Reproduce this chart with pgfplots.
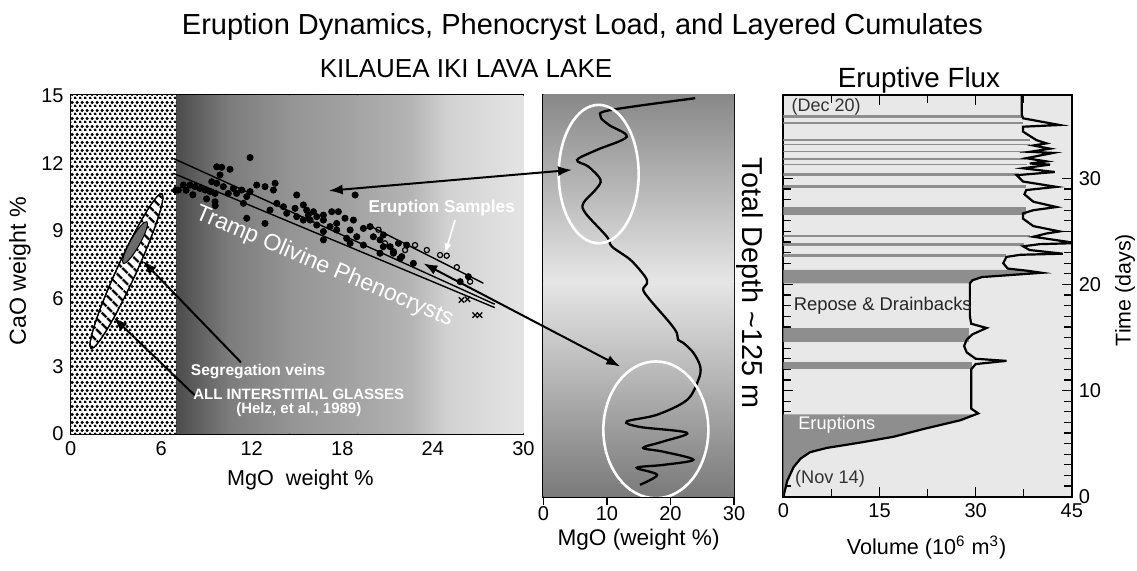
\documentclass[border=0pt]{standalone}
\usepackage{fontspec}
\setmainfont{Liberation Sans}
\usepackage{pgfplots}
\pgfplotsset{compat=1.18}
\usetikzlibrary{patterns,patterns.meta,arrows.meta}
\pgfdeclarepatternformonly{hexdots}{\pgfqpoint{0pt}{0pt}}{\pgfqpoint{2.3pt}{3.8pt}}{\pgfqpoint{2.3pt}{3.8pt}}{%
  \pgfpathcircle{\pgfqpoint{0.575pt}{0.475pt}}{0.92pt}%
  \pgfpathcircle{\pgfqpoint{1.725pt}{2.375pt}}{0.92pt}%
  \pgfusepath{fill}}
\definecolor{bandgray}{HTML}{8E8E8E}
\definecolor{lightbg}{HTML}{E8E8E8}
\definecolor{gA}{HTML}{4C4C4C}
\definecolor{gB}{HTML}{7C7C7C}
\definecolor{gC}{HTML}{949494}
\definecolor{gD}{HTML}{A4A4A4}
\definecolor{gE}{HTML}{B4B4B4}
\definecolor{gF}{HTML}{D2D2D2}
\definecolor{gG}{HTML}{E4E4E4}
\definecolor{pTop}{HTML}{888888}
\definecolor{pMid}{HTML}{E6E6E6}
\definecolor{pBot}{HTML}{7A7A7A}
\newcommand\fs[1]{\fontsize{#1}{#1}\selectfont}
\pgfplotsset{
  every axis/.append style={/pgf/number format/assume math mode=true,
    scale only axis, anchor=south west,
    axis line style={line width=1pt},
    tick label style={font=\fs{10}},
    every tick/.style={black, line width=0.6pt}},
}
\begin{document}
\begin{tikzpicture}
\path[use as bounding box] (0pt,0pt) rectangle (568.5pt,285.5pt);

% ================= Panel 1 =================
\begin{axis}[name=p1, at={(35.3pt,68.5pt)}, width=226.4pt, height=169.25pt,
  xmin=0, xmax=30, ymin=0, ymax=15,
  xtick={0,6,...,30}, ytick={0,3,...,15}, minor x tick num=5, minor y tick num=2,
  tick align=inside, major tick length=4.5pt, minor tick length=2.5pt]
% background gradient
\addplot[draw=none, left color=gA, right color=gB] coordinates {(7,0) (10.5,0) (10.5,15) (7,15)} -- cycle;
\addplot[draw=none, left color=gB, right color=gC] coordinates {(10.5,0) (14.5,0) (14.5,15) (10.5,15)} -- cycle;
\addplot[draw=none, left color=gC, right color=gD] coordinates {(14.5,0) (19,0) (19,15) (14.5,15)} -- cycle;
\addplot[draw=none, left color=gD, right color=gE] coordinates {(19,0) (22.5,0) (22.5,15) (19,15)} -- cycle;
\addplot[draw=none, left color=gE, right color=gF] coordinates {(22.5,0) (25,0) (25,15) (22.5,15)} -- cycle;
\addplot[draw=none, left color=gF, right color=gG] coordinates {(25,0) (30,0) (30,15) (25,15)} -- cycle;
% stippled glass field
\addplot[draw=none, fill=white, postaction={pattern=hexdots}] coordinates {(0,0) (7,0) (7,15) (0,15)} -- cycle;
% olivine control lines
\addplot[black, line width=0.7pt] coordinates {(6.81,12.21) (28.1,5.75)};
\addplot[black, line width=0.7pt] coordinates {(6.81,11.55) (28.1,5.6)};
\addplot[black, line width=0.7pt] coordinates {(19.7,9.26) (27.35,6.68)};
% interstitial glasses and segregation veins
\draw[black, line width=0.6pt, fill=white, rotate around={65.4:(axis cs:3.70,7.22)}] (axis cs:3.70,7.22) ellipse [x radius=42.5pt, y radius=4.8pt];
\path[pattern={Lines[angle=-45,distance=4pt,line width=1.3pt]}, rotate around={65.4:(axis cs:3.70,7.22)}] (axis cs:3.70,7.22) ellipse [x radius=42.5pt, y radius=4.8pt];
\draw[black, line width=0.6pt, rotate around={65.4:(axis cs:3.70,7.22)}] (axis cs:3.70,7.22) ellipse [x radius=42.5pt, y radius=4.8pt];
\draw[black, line width=0.5pt, fill=gray!85!black, rotate around={60.6:(axis cs:4.27,8.48)}] (axis cs:4.27,8.48) ellipse [x radius=12pt, y radius=2.4pt];
% samples
\addplot[only marks, mark=*, mark size=1.55pt, mark options={fill=black, draw=black}] coordinates {
(11.89,12.25) (9.68,11.84) (10.01,11.82) (10.56,11.73) (9.90,11.48) (9.35,11.18) (9.68,11.11) (10.12,10.96) (10.78,10.88) (11.34,10.81) (11.89,10.74) (12.33,11.03) (12.88,10.96) (13.55,11.11) (13.44,10.81) (7.47,11.03) (7.14,10.81) (7.91,11.03) (8.24,10.96) (8.57,10.88) (8.91,10.81) (9.24,10.74) (9.57,10.66) (10.45,10.66) (11.0,10.66) (11.67,10.52) (9.57,10.29) (11.45,10.22) (13.21,9.92) (13.66,10.22) (14.1,10.07) (14.98,10.59) (14.87,10.0) (15.42,10.15) (15.64,9.92) (16.09,9.85) (15.75,9.70) (16.31,9.63) (16.75,9.70) (17.30,9.85) (17.74,9.85) (18.18,9.56) (17.63,9.33) (17.19,9.19) (16.75,9.48) (16.31,9.26) (15.87,9.48) (15.42,9.48) (14.98,9.63) (18.74,9.48) (18.52,9.04) (18.29,8.67) (18.96,8.74) (19.40,9.11) (16.75,8.60) (18.52,8.45) (19.40,8.37) (19.84,9.19) (20.06,8.74) (20.50,8.60) (20.72,8.30) (21.17,8.30) (20.50,8.01) (21.39,8.01) (21.83,7.78) (21.72,8.45) (22.27,8.37) (22.71,7.56) (11.67,9.56) (12.88,9.33) (18.85,10.59) (16.75,8.97) (17.63,9.04) (14.32,9.78) (25.81,6.75) (26.36,6.97) (20.72,8.82) (21.39,8.08) (21.94,7.86) (6.96,10.8) (7.65,10.8) (9.01,10.42) (9.58,10.12) (8.1,10.6)};
\addplot[only marks, mark=o, mark size=1.3pt, mark options={fill=white, draw=black, line width=0.6pt}] coordinates {
(20.4,9.05) (20.83,8.45) (22.16,8.15) (22.82,8.37) (23.6,8.15) (24.48,7.93) (24.92,7.9) (25.59,7.39) (26.47,6.75)};
\addplot[only marks, mark=x, mark size=1.9pt, mark options={draw=black, line width=0.6pt}] coordinates {
(25.9,5.94) (26.3,5.97) (26.8,5.27) (27.1,5.27)};
% arrows and labels
\draw[-{Latex[length=7pt,width=5pt]}, line width=1pt] (axis cs:11.29,3.17) -- (axis cs:4.79,7.67);
\draw[-{Latex[length=7pt,width=5pt]}, line width=1pt] (axis cs:8.22,1.72) -- (axis cs:2.85,5.16);
\draw[-{Latex[length=5pt,width=3.5pt]}, white, line width=0.8pt] (axis cs:25.47,9.48) -- (axis cs:24.81,8.0);
\node[white, rotate=-23, font=\fs{11.6}] at (axis cs:16.81,7.41) {Tramp Olivine Phenocrysts};
\node[white, font=\fs{8.6}\bfseries] at (axis cs:24.59,10.0) {Eruption Samples};
\node[white, font=\fs{7.8}\bfseries] at (axis cs:12.42,2.79) {Segregation veins};
\node[white, font=\fs{7.5}\bfseries] at (axis cs:15.12,1.75) {ALL INTERSTITIAL GLASSES};
\node[white, font=\fs{7.5}\bfseries] at (axis cs:15.12,1.09) {(Helz, et al., 1989)};
\coordinate (a1) at (axis cs:17.1,10.78);
\coordinate (a2) at (axis cs:23.37,7.56);
\end{axis}

% ================= Panel 2 =================
\begin{axis}[name=p2, at={(271.7pt,37.15pt)}, width=95.3pt, height=200.85pt,
  xmin=0, xmax=30, ymin=0, ymax=125, y dir=reverse,
  xtick={0,10,20,30}, ytick=\empty, xtick pos=bottom, tick align=outside, major tick length=4pt,
  xticklabel style={yshift=2.5pt}]
\addplot[draw=none, top color=pTop, bottom color=pMid] coordinates {(0,0) (30,0) (30,58) (0,58)} -- cycle;
\addplot[draw=none, top color=pMid, bottom color=pBot] coordinates {(0,58) (30,58) (30,125) (0,125)} -- cycle;
\addplot[black, line width=1.15pt, smooth, tension=0.55] coordinates {
(23.9,1.0) (10.5,4.7) (9.0,6.7) (10.3,9.3) (13.1,13.0) (8.4,17.1) (5.3,20.2) (7.1,22.3) (9.0,26.4) (8.2,29.5) (6.3,33.6) (6.6,36.7) (10.0,44.1) (10.8,47.2) (13.7,51.3) (16.0,56.5) (16.3,58.6) (15.7,60.6) (16.8,63.8) (19.9,70.9) (21.0,74.0) (21.2,76.2) (22.0,77.1) (23.6,80.2) (24.7,84.6) (24.4,88.6) (22.6,94.9) (17.9,99.5) (13.1,101.6) (15.2,103.3) (22.6,105.1) (18.9,107.8) (15.7,109.8) (18.9,111.0) (23.6,113.5) (18.9,115.1) (14.7,116.0) (17.9,118.2) (15.2,121.3)};
\draw[white, line width=1.3pt] (axis cs:8.7,24.6) ellipse [x radius=20pt, y radius=34.6pt];
\draw[white, line width=1.3pt] (axis cs:17.7,104.2) ellipse [x radius=26.25pt, y radius=34.2pt];
\coordinate (b1) at (axis cs:4.5,23.3);
\coordinate (b2) at (axis cs:12.09,84.5);
\end{axis}

% ================= Panel 3 =================
\begin{axis}[name=p3, at={(391.7pt,37.15pt)}, width=144.2pt, height=200.85pt,
  xmin=0, xmax=45, ymin=0, ymax=37.86,
  xtick={0,15,30,45}, minor x tick num=1, ytick={0,10,20,30}, minor y tick num=9,
  yticklabel pos=right, tick align=inside, major tick length=5pt, minor tick length=4pt,
  axis background/.style={fill=lightbg}]
% gray bands
\addplot[draw=none, fill=bandgray] coordinates {(0,35.7) (37.2,35.7) (37.2,35.95) (0,35.95)} -- cycle;
\addplot[draw=none, fill=bandgray] coordinates {(0,35.1) (37.4,35.1) (37.4,35.3) (0,35.3)} -- cycle;
\addplot[draw=none, fill=bandgray] coordinates {(0,33.5) (38.5,33.5) (38.5,33.75) (0,33.75)} -- cycle;
\addplot[draw=none, fill=bandgray] coordinates {(0,33.1) (38.5,33.1) (38.5,33.25) (0,33.25)} -- cycle;
\addplot[draw=none, fill=bandgray] coordinates {(0,32.45) (38,32.45) (38,32.6) (0,32.6)} -- cycle;
\addplot[draw=none, fill=bandgray] coordinates {(0,31.75) (37.9,31.75) (37.9,31.95) (0,31.95)} -- cycle;
\addplot[draw=none, fill=bandgray] coordinates {(0,31.25) (38,31.25) (38,31.4) (0,31.4)} -- cycle;
\addplot[draw=none, fill=bandgray] coordinates {(0,30.2) (36.8,30.2) (36.8,30.5) (0,30.5)} -- cycle;
\addplot[draw=none, fill=bandgray] coordinates {(0,29.05) (37.8,29.05) (37.8,29.35) (0,29.35)} -- cycle;
\addplot[draw=none, fill=bandgray] coordinates {(0,26.55) (37.8,26.55) (37.8,27.27) (0,27.27)} -- cycle;
\addplot[draw=none, fill=bandgray] coordinates {(0,24.5) (38.5,24.5) (38.5,24.7) (0,24.7)} -- cycle;
\addplot[draw=none, fill=bandgray] coordinates {(0,23.6) (37.6,23.6) (37.6,23.9) (0,23.9)} -- cycle;
\addplot[draw=none, fill=bandgray] coordinates {(0,22.55) (34.8,22.55) (34.8,22.9) (0,22.9)} -- cycle;
\addplot[draw=none, fill=bandgray] coordinates {(0,20.1) (29.3,20.1) (29.5,20.4) (31,20.7) (40.3,21.1) (38,21.3) (36.5,21.37) (0,21.37)} -- cycle;
\addplot[draw=none, fill=bandgray] coordinates {(0,14.6) (29.0,14.6) (29.0,15.86) (0,15.86)} -- cycle;
\addplot[draw=none, fill=bandgray] coordinates {(0,11.99) (29.5,11.99) (29.5,12.72) (0,12.72)} -- cycle;
% eruptions
\addplot[draw=none, fill=bandgray] coordinates {(0,0) (0.6,1.5) (1.6,2.8) (2.7,3.6) (4.2,4.2) (6.8,4.6) (12,5.1) (17.2,5.65) (22,6.4) (27.6,7.2) (29.9,7.76) (0,7.76)} -- cycle;
% cumulative volume curve
\addplot[black, line width=1.1pt] coordinates {
(0,0) (0.6,1.5) (1.6,2.8) (2.7,3.6) (4.2,4.2) (6.8,4.6) (12,5.1) (17.2,5.65) (22,6.4) (27.6,7.2) (30.4,7.85) (29.3,8.3) (29.3,12.0) (30,12.5) (34.8,12.8) (30,13.0) (28.6,13.6) (28.2,14.2) (28.6,14.8) (29.5,15.3) (31.7,15.9) (29.3,16.3) (29.1,17) (29.1,20.1) (29.5,20.4) (31,20.7) (40.3,21.1) (38,21.3) (35,21.5) (34.3,22.0) (34.8,22.6) (37,22.8) (43.6,22.9) (38.4,23.25) (37.4,23.6) (40,23.8) (45.7,23.9) (39,24.5) (41,24.8) (43.1,25.0) (39,25.5) (37.4,26.2) (37.4,26.7) (39,27) (42.6,27.3) (39,27.8) (37.6,28.5) (37.9,28.9) (42.6,29.2) (37.4,29.7) (36.4,30.3) (42.35,30.6) (37.4,30.95) (41.6,31.3) (38.45,31.4) (41.05,31.6) (37.9,31.9) (42.1,32.4) (38.45,32.5) (41.6,32.8) (39,33.1) (41.05,33.3) (39.5,33.6) (37.4,34.4) (37.4,34.87) (43.1,35.03) (37.4,35.66) (37.2,36) (37.2,37.86)};
\node[font=\fs{9}, text=black!80] at (axis cs:6.66,36.7) {(Dec 20)};
\node[font=\fs{9.2}, text=black!85] at (axis cs:15.5,17.97) {Repose \& Drainbacks};
\node[font=\fs{9.1}, text=white] at (axis cs:8.33,6.76) {Eruptions};
\node[font=\fs{9.1}, text=black!80] at (axis cs:7.28,1.67) {(Nov 14)};
\end{axis}

% cross-panel arrows
\draw[{Latex[length=7pt,width=5pt]}-{Latex[length=7pt,width=5pt]}, line width=1pt] (a1) -- (b1);
\draw[{Latex[length=7pt,width=5pt]}-{Latex[length=7pt,width=5pt]}, line width=1pt] (a2) -- (b2);

% titles and labels
\node[anchor=base, font=\fs{14.5}] at (291.25pt,268.35pt) {Eruption Dynamics, Phenocryst Load, and Layered Cumulates};
\node[anchor=base, font=\fs{13}] at (233pt,246.85pt) {KILAUEA IKI LAVA LAKE};
\node[anchor=base, font=\fs{13.9}] at (459.5pt,241.85pt) {Eruptive Flux};
\node[rotate=90, font=\fs{11.6}] at (10pt,150pt) {CaO weight \%};
\node[font=\fs{10.8}] at (150.2pt,45.5pt) {MgO\ \ weight \%};
\node[font=\fs{11.3}] at (319.3pt,15.5pt) {MgO (weight \%)};
\node[rotate=-90, font=\fs{14.4}] at (375pt,144pt) {Total Depth \textasciitilde125 m};
\node[font=\fs{10.8}] at (463.3pt,12pt) {Volume (10\textsuperscript{6} m\textsuperscript{3})};
\node[rotate=90, font=\fs{10.7}] at (562.5pt,140.5pt) {Time (days)};
\end{tikzpicture}
\end{document}
